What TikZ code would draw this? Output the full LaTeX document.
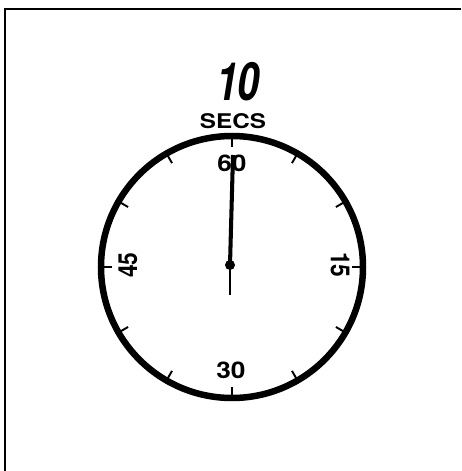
\documentclass[tikz,border=0pt]{standalone}
\usepackage{fontspec}
\setsansfont{TeX Gyre Heros}
\begin{document}
\begin{tikzpicture}[
  x=0.02cm, y=0.02cm,
  dial/.style={draw, line width=3.7pt},
  tickmark/.style={line width=1.1pt},
  hand/.style={line width=2.3pt},
  numeral/.style={font=\sffamily\bfseries\fontsize{13}{13}\selectfont, inner sep=0pt, xscale=1.15}
]
  \useasboundingbox (0,0) rectangle (461,471);
  \draw[line width=1.6pt] (5,0) -- (5,462) -- (461,462);
  \coordinate (c) at (232,204);
  \draw[dial] (c) circle (131);
  \foreach \a in {0,30,...,330}
    \draw[tickmark] (c) ++(\a:129) -- ++(\a+180:9);
  \node[numeral] (l60) at (232,308) {60};
  \node[numeral, rotate=-90] (l15) at (340,206) {15};
  \node[numeral] (l30) at (231,101) {30};
  \node[numeral, rotate=90] (l45) at (128,206) {45};
  \node[font=\sffamily\bfseries\itshape\fontsize{30}{30}\selectfont, inner sep=0pt, xscale=0.75] (ten) at (238,389) {10};
  \node[font=\sffamily\bfseries\fontsize{11.5}{11.5}\selectfont, inner sep=0pt, xscale=1.2] (secs) at (233,350) {SECS};
  \coordinate (pivot) at (230,206);
  \coordinate (tip) at (233,316);
  \coordinate (tail) at (230,176);
  \draw[hand] (pivot) -- (tip);
  \draw[line width=1.3pt] (pivot) -- (tail);
  \fill (pivot) circle (5);
\end{tikzpicture}
\end{document}
